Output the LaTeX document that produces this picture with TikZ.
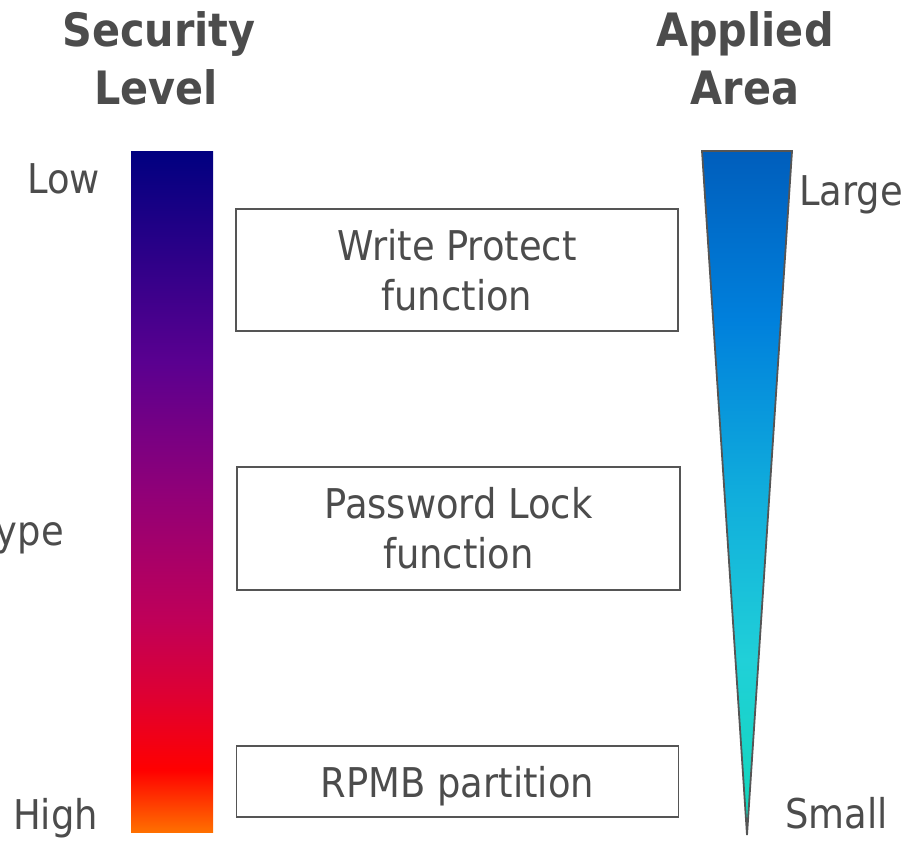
\documentclass[tikz,border=0pt]{standalone}
\usepackage{fontspec}
\setmainfont{DejaVu Sans Condensed}
\definecolor{txt}{HTML}{4C4C4C}
\definecolor{frame}{HTML}{555555}
\definecolor{barO}{HTML}{FF7000}
\definecolor{barR}{HTML}{FF0000}
\definecolor{barC}{HTML}{E00030}
\definecolor{barM}{HTML}{C00058}
\definecolor{barP}{HTML}{900078}
\definecolor{barV}{HTML}{5A0090}
\definecolor{barN}{HTML}{000080}
\definecolor{triB}{HTML}{10D8B8}
\definecolor{triF}{HTML}{20D0D8}
\definecolor{triC}{HTML}{10ACDC}
\definecolor{triM}{HTML}{0080DC}
\definecolor{triT}{HTML}{005EBC}
\pgfdeclareverticalshading{secbar}{100bp}{color(0bp)=(barO); color(25bp)=(barO); color(29.55bp)=(barR); color(34.7bp)=(barC); color(40.5bp)=(barM); color(50bp)=(barP); color(59.5bp)=(barV); color(75bp)=(barN); color(100bp)=(barN)}
\pgfdeclareverticalshading{areatri}{100bp}{color(0bp)=(triB); color(25bp)=(triB); color(37.8bp)=(triF); color(50.2bp)=(triC); color(62.65bp)=(triM); color(75bp)=(triT); color(100bp)=(triT)}
\tikzset{
  lbl/.style={text=txt, inner sep=0pt, font=\fontsize{41}{50}\selectfont},
  ttl/.style={text=txt, inner sep=0pt, font=\fontsize{46}{57}\selectfont\bfseries, anchor=base},
  fbox/.style={draw=frame, line width=1.8pt, text=txt, align=center, inner sep=0pt,
    font=\fontsize{41}{50}\selectfont},
}
\begin{document}
\begin{tikzpicture}[x=1pt,y=1pt]
\useasboundingbox (0,0) rectangle (917,-843);
% titles
\node[ttl] (sec1) at (159,-47) {Security};
\node[ttl] (sec2) at (156,-104) {Level};
\node[ttl] (app1) at (745,-47) {Applied};
\node[ttl] (app2) at (745,-104) {Area};
% security bar
\fill[shading=secbar] (131,-151) rectangle (213,-832);
% area triangle
\draw[draw=frame, line width=1.8pt, line join=miter, shading=areatri] (702,-151) -- (792,-151) -- (747,-835) -- cycle;
% side labels
\node[lbl, anchor=base west] (low) at (27,-193) {Low};
\node[lbl, anchor=base west] (high) at (13,-829) {High};
\node[lbl, anchor=base east] (type) at (64,-545) {ype};
\node[lbl, anchor=base west] (large) at (799,-205) {Large};
\node[lbl, anchor=base west] (small) at (785,-828) {Small};
% boxes
\node[fbox, minimum width=442pt, minimum height=122pt] (wp) at (457,-270) {Write Protect\\function};
\node[fbox, minimum width=443pt, minimum height=123pt] (pl) at (458.5,-528.5) {Password Lock\\function};
\node[fbox, minimum width=442pt, minimum height=71pt, text depth=0pt] (rpmb) at (457.5,-781.5) {RPMB partition};
\end{tikzpicture}
\end{document}
